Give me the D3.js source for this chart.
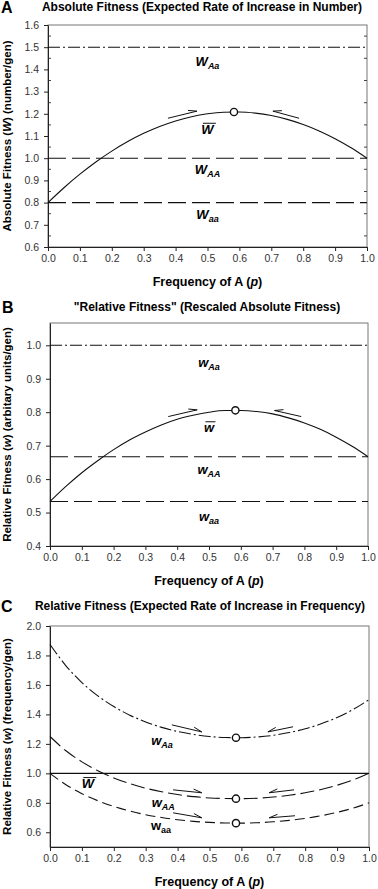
<!DOCTYPE html>
<meta charset="utf-8">
<title>fitness</title>
<style>
body { margin: 0; background: #fff; }
svg { display: block; }
text { font-family: "Liberation Sans", Arial, sans-serif; }
</style>
<svg id="chart"></svg>
<script src="https://cdn.jsdelivr.net/npm/d3@7"></script>
<script>
// frequency of A read along the x axis
var pGrid = [0, 0.05, 0.1, 0.15, 0.2, 0.25, 0.3, 0.35, 0.4, 0.45, 0.5,
             0.55, 0.6, 0.65, 0.7, 0.75, 0.8, 0.85, 0.9, 0.95, 1];

// panel A: absolute fitness (AA, Aa, aa) and mean fitness
var absW = [1.0, 1.5, 0.8];
var wbarAbs = [0.800, 0.867, 0.928, 0.983, 1.032, 1.075, 1.112, 1.143, 1.168, 1.187, 1.200,
               1.207, 1.208, 1.203, 1.192, 1.175, 1.152, 1.123, 1.088, 1.047, 1.000];

// panel B: rescaled fitness
var relW = [0.667, 1.0, 0.533];
var wbarRel = [0.533, 0.578, 0.619, 0.655, 0.688, 0.717, 0.741, 0.762, 0.779, 0.791, 0.800,
               0.805, 0.805, 0.802, 0.795, 0.783, 0.768, 0.749, 0.725, 0.698, 0.667];

// panel C: relative fitness in frequency units
var freqAa = [1.875, 1.730, 1.616, 1.526, 1.453, 1.395, 1.349, 1.312, 1.284, 1.264, 1.250,
              1.243, 1.242, 1.247, 1.258, 1.277, 1.302, 1.336, 1.379, 1.433, 1.500];
var freqAA = [1.250, 1.153, 1.078, 1.017, 0.969, 0.930, 0.899, 0.875, 0.856, 0.842, 0.833,
              0.829, 0.828, 0.831, 0.839, 0.851, 0.868, 0.890, 0.919, 0.955, 1.000];
var freqaa = [1.000, 0.923, 0.862, 0.814, 0.775, 0.744, 0.719, 0.700, 0.685, 0.674, 0.667,
              0.663, 0.662, 0.665, 0.671, 0.681, 0.694, 0.712, 0.735, 0.764, 0.800];
var wbarFreq = 1.0;

var pEq = 0.583;
var xTicks = [0, 0.1, 0.2, 0.3, 0.4, 0.5, 0.6, 0.7, 0.8, 0.9, 1.0];
var yTicksA = [0.6, 0.7, 0.8, 0.9, 1.0, 1.1, 1.2, 1.3, 1.4, 1.5, 1.6];
var yTicksB = [0.4, 0.5, 0.6, 0.7, 0.8, 0.9, 1.0];
var yTicksC = [0.6, 0.8, 1.0, 1.2, 1.4, 1.6, 1.8, 2.0];

var width = 378, height = 889;
var svg = d3.select('#chart').attr('width', width).attr('height', height);

var DASH_DOT = '12,3,2,3';
var LONG_DASH = '18,6';

function level(v) { return pGrid.map(function(p) { return [p, v]; }); }
function curve(vals) { return pGrid.map(function(p, i) { return [p, vals[i]]; }); }

function label(g, x, y, main, sub, opts) {
  opts = opts || {};
  var t = g.append('text')
    .attr('x', x).attr('y', y)
    .attr('text-anchor', 'middle')
    .attr('font-size', 13).attr('font-weight', 'bold')
    .attr('font-style', opts.upright ? 'normal' : 'italic');
  t.append('tspan').text(main);
  if (sub) {
    t.append('tspan').text(sub)
      .attr('font-size', 9).attr('dy', 3);
  }
  if (opts.bar) {
    var bb = t.node().getBBox();
    g.append('line')
      .attr('x1', bb.x + 1.5).attr('x2', bb.x + bb.width + 0.5)
      .attr('y1', bb.y + 1.5).attr('y2', bb.y + 1.5)
      .attr('stroke', '#111').attr('stroke-width', 1);
  }
}

function drawPanel(c) {
  var g = svg.append('g');
  var x = d3.scaleLinear().domain([0, 1]).range([c.left, c.right]);
  var y = d3.scaleLinear().domain(c.yDomain).range([c.bottom, c.top]);

  // frame
  g.append('rect')
    .attr('x', c.left).attr('y', c.top)
    .attr('width', c.right - c.left).attr('height', c.bottom - c.top)
    .attr('fill', 'none').attr('stroke', '#777').attr('stroke-width', 1);

  // minor ticks, inside, both sides
  c.minor.forEach(function(v) {
    g.append('line').attr('x1', c.left).attr('x2', c.left + 3)
      .attr('y1', y(v)).attr('y2', y(v)).attr('stroke', '#444');
    g.append('line').attr('x1', c.right - 3).attr('x2', c.right)
      .attr('y1', y(v)).attr('y2', y(v)).attr('stroke', '#444');
  });

  var yAxis = g.append('g')
    .attr('transform', 'translate(' + c.left + ',0)')
    .call(d3.axisLeft(y).tickValues(c.yTicks).tickFormat(d3.format('.1f'))
      .tickSizeInner(4).tickSizeOuter(0).tickPadding(5));
  var xAxis = g.append('g')
    .attr('transform', 'translate(0,' + c.bottom + ')')
    .call(d3.axisBottom(x).tickValues(xTicks).tickFormat(d3.format('.1f'))
      .tickSizeInner(4).tickSizeOuter(0).tickPadding(4));
  [xAxis, yAxis].forEach(function(a) {
    a.select('.domain').attr('stroke', '#222');
    a.selectAll('.tick line').attr('stroke', '#222');
    a.selectAll('text').attr('font-size', 10.5).attr('fill', '#333')
      .attr('font-family', '"Liberation Sans", Arial, sans-serif');
  });

  var line = d3.line()
    .x(function(d) { return x(d[0]); })
    .y(function(d) { return y(d[1]); })
    .curve(d3.curveMonotoneX);

  c.series.forEach(function(s) {
    g.append('path')
      .attr('d', line(s.pts))
      .attr('fill', 'none').attr('stroke', '#111')
      .attr('stroke-width', 1.1)
      .attr('stroke-dasharray', s.dash || null);
  });

  // half-headed arrows toward the equilibrium, barb on the upper side
  c.arrows.forEach(function(a) {
    var x1 = x(a[0]), y1 = y(a[1]), x2 = x(a[2]), y2 = y(a[3]);
    var back = Math.atan2(y1 - y2, x1 - x2);
    var b1 = [x2 + 9 * Math.cos(back + 0.32), y2 + 9 * Math.sin(back + 0.32)];
    var b2 = [x2 + 9 * Math.cos(back - 0.32), y2 + 9 * Math.sin(back - 0.32)];
    var b = b1[1] < b2[1] ? b1 : b2;
    g.append('path')
      .attr('d', 'M' + x1 + ',' + y1 + 'L' + x2 + ',' + y2 + 'L' + b[0] + ',' + b[1])
      .attr('fill', 'none').attr('stroke', '#111').attr('stroke-width', 1);
  });

  c.points.forEach(function(v) {
    g.append('circle')
      .attr('cx', x(pEq)).attr('cy', y(v)).attr('r', 3.6)
      .attr('fill', '#fff').attr('stroke', '#111').attr('stroke-width', 1.4);
  });

  c.labels.forEach(function(l) {
    label(g, x(l.p), y(l.v), l.main, l.sub, l);
  });

  // titles
  g.append('text').attr('x', c.letterX).attr('y', c.titleY + 2)
    .attr('font-size', 16).attr('font-weight', 'bold').text(c.letter);
  g.append('text').attr('x', c.titleX).attr('y', c.titleY)
    .attr('text-anchor', 'middle')
    .attr('font-size', 12).attr('font-weight', 'bold').text(c.title);

  var xt = g.append('text')
    .attr('x', (c.left + c.right) / 2).attr('y', c.bottom + 39)
    .attr('text-anchor', 'middle').attr('font-size', 12.5).attr('font-weight', 'bold');
  xt.append('tspan').text('Frequency of A (');
  xt.append('tspan').attr('font-style', 'italic').text('p');
  xt.append('tspan').text(')');

  var yt = g.append('text')
    .attr('transform', 'translate(11,' + (c.top + c.bottom) / 2 + ') rotate(-90)')
    .attr('text-anchor', 'middle').attr('font-size', 11.5).attr('font-weight', 'bold');
  yt.append('tspan').text(c.yTitle[0]);
  yt.append('tspan').attr('font-style', 'italic').text(c.yTitle[1]);
  yt.append('tspan').text(c.yTitle[2]);
}

drawPanel({
  letter: 'A', letterX: 1, titleX: 202, titleY: 11,
  title: 'Absolute Fitness (Expected Rate of Increase in Number)',
  yTitle: ['Absolute Fitness (', 'W', ') (number/gen)'],
  left: 48, right: 367, top: 25, bottom: 247,
  yDomain: [0.6, 1.6], yTicks: yTicksA,
  minor: [0.65, 0.75, 0.85, 0.95, 1.05, 1.15, 1.25, 1.35, 1.45, 1.55],
  series: [
    { pts: level(absW[1]), dash: DASH_DOT },
    { pts: level(absW[0]), dash: LONG_DASH },
    { pts: level(absW[2]), dash: LONG_DASH },
    { pts: curve(wbarAbs) }
  ],
  arrows: [[0.376, 1.18, 0.467, 1.212], [0.787, 1.18, 0.705, 1.212]],
  points: [1.208],
  labels: [
    { p: 0.5, v: 1.415, main: 'W', sub: 'Aa' },
    { p: 0.5, v: 1.11, main: 'W', bar: true },
    { p: 0.5, v: 0.93, main: 'W', sub: 'AA' },
    { p: 0.5, v: 0.725, main: 'W', sub: 'aa' }
  ]
});

drawPanel({
  letter: 'B', letterX: 2, titleX: 207, titleY: 311,
  title: '"Relative Fitness" (Rescaled Absolute Fitness)',
  yTitle: ['Relative Fitness (', 'w', ') (arbitary units/gen)'],
  left: 50, right: 368, top: 323, bottom: 546,
  yDomain: [0.4, 1.6 / 1.5], yTicks: yTicksB,
  minor: [],
  series: [
    { pts: level(relW[1]), dash: DASH_DOT },
    { pts: level(relW[0]), dash: LONG_DASH },
    { pts: level(relW[2]), dash: LONG_DASH },
    { pts: curve(wbarRel) }
  ],
  arrows: [[0.372, 0.787, 0.463, 0.807], [0.79, 0.787, 0.706, 0.805]],
  points: [0.8056],
  labels: [
    { p: 0.5, v: 0.935, main: 'w', sub: 'Aa' },
    { p: 0.5, v: 0.74, main: 'w', bar: true },
    { p: 0.5, v: 0.615, main: 'w', sub: 'AA' },
    { p: 0.5, v: 0.475, main: 'w', sub: 'aa' }
  ]
});

drawPanel({
  letter: 'C', letterX: 1, titleX: 200, titleY: 610,
  title: 'Relative Fitness (Expected Rate of Increase in Frequency)',
  yTitle: ['Relative Fitness (', 'w', ') (frequency/gen)'],
  left: 50, right: 369, top: 626, bottom: 847,
  yDomain: [0.5, 2.0], yTicks: yTicksC,
  minor: [],
  series: [
    { pts: curve(freqAa), dash: DASH_DOT },
    { pts: curve(freqAA), dash: '14,5' },
    { pts: curve(freqaa), dash: '10,5' },
    { pts: level(wbarFreq) }
  ],
  arrows: [
    [0.382, 1.329, 0.476, 1.281], [0.762, 1.316, 0.683, 1.281],
    [0.386, 0.888, 0.476, 0.868], [0.765, 0.888, 0.687, 0.868],
    [0.386, 0.732, 0.476, 0.698], [0.768, 0.712, 0.687, 0.698]
  ],
  points: [1.242, 0.828, 0.662],
  labels: [
    { p: 0.351, v: 1.19, main: 'w', sub: 'Aa' },
    { p: 0.119, v: 0.9, main: 'W', bar: true },
    { p: 0.355, v: 0.77, main: 'w', sub: 'AA' },
    { p: 0.348, v: 0.615, main: 'w', sub: 'aa', upright: true }
  ]
});
</script>
